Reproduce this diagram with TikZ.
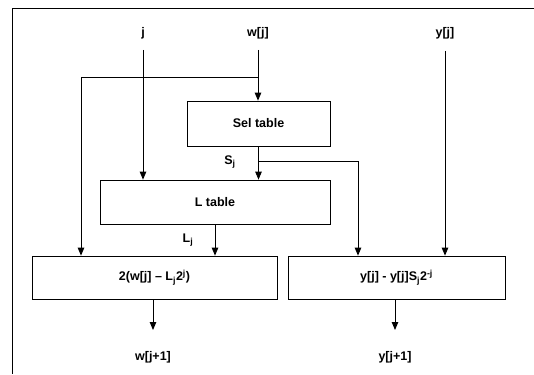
\documentclass[tikz,border=0pt]{standalone}
\usepackage{fontspec}
\setmainfont{Liberation Sans}
\usetikzlibrary{arrows.meta}
\begin{document}
\begin{tikzpicture}[x=1pt,y=1pt,
  font=\fontsize{12.5}{15}\selectfont\bfseries,
  box/.style={draw, line width=0.7pt, inner sep=0pt, anchor=center},
  lbl/.style={inner sep=0pt, anchor=center},
  conn/.style={line width=0.9pt, -{Triangle[length=8pt,width=6.5pt]}},
  frame/.style={line width=0.9pt}]
\useasboundingbox (0,0) rectangle (534,-374);
% frame
\coordinate (ftop) at (534,-8);
\coordinate (fcorner) at (12,-8);
\coordinate (fbot) at (12,-374);
\draw[frame] (ftop) -- (fcorner) -- (fbot);
% inputs
\node[lbl] (j) at (143,-33) {j};
\node[lbl] (w) at (258,-33) {w[j]};
\node[lbl] (y) at (445,-33) {y[j]};
% boxes
\node[box, minimum width=143, minimum height=45] (sel) at (258.5,-123.5) {Sel table};
\node[box, minimum width=230, minimum height=44] (ltab) at (215,-202) {L table};
\node[box, minimum width=245, minimum height=43] (lbox) at (154.5,-277.5) {2(w[j] -- L\textsubscript{j}2\textsuperscript{j})};
\node[box, minimum width=217, minimum height=43] (rbox) at (396.5,-277.5) {y[j] - y[j]S\textsubscript{j}2\textsuperscript{-j}};
% outputs
\node[lbl] (wo) at (153,-357) {w[j+1]};
\node[lbl] (yo) at (395,-357) {y[j+1]};
% edge labels
\node[lbl] (slab) at (230,-162) {S\textsubscript{j}};
\node[lbl] (llab) at (188,-240) {L\textsubscript{j}};
% coordinates
\coordinate (js) at (143,-50);
\coordinate (ws) at (258,-50);
\coordinate (ys) at (445,-51);
\coordinate (wb) at (258,-77);
\coordinate (lb) at (81,-77);
\coordinate (sb) at (258.5,-161);
\coordinate (rb) at (358,-161);
\coordinate (woe) at (153,-330);
\coordinate (yoe) at (395,-330);
% connectors
\draw[conn] (js) -- (js |- ltab.north);
\draw[conn] (ws) -- (ws |- sel.north);
\draw[conn] (wb) -- (lb) -- (lb |- lbox.north);
\draw[conn] (sel.south) -- (sel.south |- ltab.north);
\draw[conn] (sb) -- (rb) -- (rb |- rbox.north);
\draw[conn] (ltab.south) -- (ltab.south |- lbox.north);
\draw[conn] (ys) -- (ys |- rbox.north);
\draw[conn] (woe |- lbox.south) -- (woe);
\draw[conn] (yoe |- rbox.south) -- (yoe);
\end{tikzpicture}
\end{document}
